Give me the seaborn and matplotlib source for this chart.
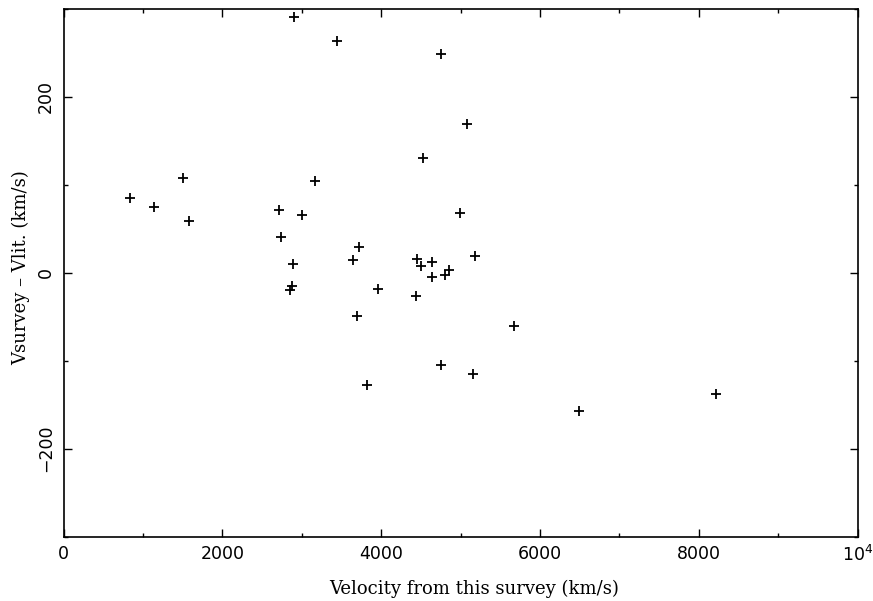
import numpy as np
import pandas as pd
import seaborn as sns
import matplotlib.pyplot as plt
from matplotlib.ticker import MultipleLocator, FixedLocator, FixedFormatter

# Velocity from this survey (km/s) and difference to literature (km/s)
v_survey = [837, 1144, 1501, 1577, 2907, 3448, 2718, 2739, 2894, 2874,
            2853, 3000, 3167, 3650, 3725, 3700, 3819, 3965, 4754, 4531,
            4448, 4502, 4440, 4645, 4645, 4805, 4859, 4997, 5086, 5179,
            4751, 5161, 5678, 6489, 8218]
v_diff = [85, 74.5, 107, 58.5, 290.5, 263, 71.5, 40, 10, -15,
          -19.5, 65, 104, 14, 29, -49.5, -127.5, -18.5, 248, 130,
          16, 7, -27, 11.5, -5, -2.5, 2.5, 68, 169, 19,
          -104.5, -115, -60.5, -157.5, -137.5]

x_ticks = [0, 2000, 4000, 6000, 8000, 10000]
x_tick_labels = ["0", "2000", "4000", "6000", "8000", r"$10^4$"]
y_ticks = [-200, 0, 200]
y_tick_labels = ["\u2212200", "0", "200"]

df = pd.DataFrame({"vsurvey": v_survey, "diff": v_diff})

sns.set_style("ticks")
plt.rcParams["font.family"] = ["DejaVu Sans"]
plt.rcParams["text.color"] = "black"
plt.rcParams["axes.labelcolor"] = "black"
plt.rcParams["xtick.color"] = "black"
plt.rcParams["ytick.color"] = "black"

fig = plt.figure(figsize=(8.73, 6.01), dpi=100)
ax = fig.add_axes([63.5 / 873, 1 - 536.7 / 601, 794.2 / 873, 528.2 / 601])

sns.scatterplot(data=df, x="vsurvey", y="diff", marker="+", s=60,
                color="black", linewidth=1.3, ax=ax, legend=False)

ax.set_xlim(0, 10000)
ax.set_ylim(-300, 300)

ax.xaxis.set_major_locator(FixedLocator(x_ticks))
ax.xaxis.set_major_formatter(FixedFormatter(x_tick_labels))
ax.xaxis.set_minor_locator(MultipleLocator(1000))
ax.yaxis.set_major_locator(FixedLocator(y_ticks))
ax.yaxis.set_major_formatter(FixedFormatter(y_tick_labels))
ax.yaxis.set_minor_locator(MultipleLocator(100))

ax.tick_params(which="both", direction="in", top=True, right=True,
               color="black", labelcolor="black", width=1.0)
ax.tick_params(which="major", length=6, labelsize=12.5, pad=6)
ax.tick_params(which="minor", length=3)
ax.tick_params(axis="y", which="major", labelrotation=90)
for lab in ax.get_yticklabels():
    lab.set_va("center")

for sp in ax.spines.values():
    sp.set_visible(True)
    sp.set_linewidth(1.2)
    sp.set_color("black")

ax.set_xlabel("Velocity from this survey (km/s)", family="DejaVu Serif",
              fontsize=13, color="black")
ax.xaxis.set_label_coords(0.517, -0.082)
ax.set_ylabel("Vsurvey \u2013 Vlit. (km/s)", family="DejaVu Serif",
              fontsize=13, color="black", va="center")
ax.yaxis.set_label_coords(-0.0535, 0.51)

fig.savefig("out.png", dpi=100)
